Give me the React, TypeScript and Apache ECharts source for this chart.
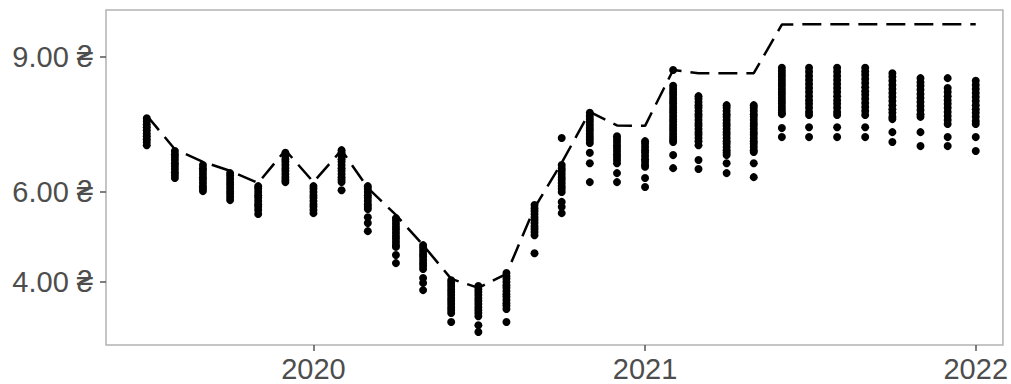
import React, { useEffect, useRef } from "react";
import * as echarts from "echarts";

// Monthly observation dates
const months: string[] = [
  "2019-07-01", "2019-08-01", "2019-09-01", "2019-10-01", "2019-11-01", "2019-12-01",
  "2020-01-01", "2020-02-01", "2020-03-01", "2020-04-01", "2020-05-01", "2020-06-01",
  "2020-07-01", "2020-08-01", "2020-09-01", "2020-10-01", "2020-11-01", "2020-12-01",
  "2021-01-01", "2021-02-01", "2021-03-01", "2021-04-01", "2021-05-01", "2021-06-01",
  "2021-07-01", "2021-08-01", "2021-09-01", "2021-10-01", "2021-11-01", "2021-12-01",
  "2022-01-01",
];

// Dashed line values
const lineValues: number[] = [
  7.70, 6.95, 6.67, 6.47, 6.20, 6.93,
  6.22, 6.93, 6.09, 5.49, 4.82, 4.07, 3.87, 4.18, 5.65, 6.65, 7.78, 7.48,
  7.47, 8.71, 8.64, 8.64, 8.64, 9.72, 9.73, 9.73, 9.73, 9.73, 9.73, 9.73,
  9.73,
];

// Dot values per month
const dotValues: number[][] = [
  [7.64, 7.57, 7.5, 7.44, 7.37, 7.3, 7.24, 7.17, 7.11, 7.04],
  [6.91, 6.84, 6.78, 6.71, 6.64, 6.58, 6.51, 6.44, 6.38, 6.31],
  [6.6, 6.53, 6.47, 6.4, 6.33, 6.27, 6.2, 6.13, 6.07, 6.02],
  [6.42, 6.36, 6.29, 6.22, 6.16, 6.09, 6.02, 5.96, 5.89, 5.82],
  [6.13, 6.07, 6.0, 5.93, 5.87, 5.8, 5.73, 5.67, 5.6, 5.51],
  [6.87, 6.8, 6.73, 6.67, 6.6, 6.53, 6.47, 6.4, 6.33, 6.27, 6.22],
  [6.13, 6.07, 6.0, 5.93, 5.87, 5.8, 5.73, 5.67, 5.6, 5.53],
  [6.93, 6.87, 6.8, 6.73, 6.67, 6.6, 6.53, 6.47, 6.4, 6.33, 6.27, 6.22, 6.04],
  [6.13, 6.07, 6.0, 5.93, 5.87, 5.8, 5.73, 5.67, 5.62, 5.44, 5.31, 5.13],
  [5.42, 5.36, 5.29, 5.22, 5.16, 5.09, 5.02, 4.96, 4.89, 4.82, 4.78, 4.6, 4.42],
  [4.82, 4.76, 4.69, 4.62, 4.56, 4.49, 4.42, 4.36, 4.29, 4.09, 3.98, 3.82],
  [4.04, 3.98, 3.91, 3.84, 3.78, 3.71, 3.64, 3.58, 3.51, 3.44, 3.38, 3.31, 3.11],
  [3.91, 3.84, 3.78, 3.71, 3.64, 3.58, 3.51, 3.44, 3.38, 3.31, 3.24, 3.04, 2.89],
  [4.2, 4.13, 4.07, 4.0, 3.93, 3.87, 3.8, 3.73, 3.67, 3.6, 3.53, 3.47, 3.4, 3.11],
  [5.71, 5.64, 5.58, 5.51, 5.44, 5.38, 5.31, 5.24, 5.18, 5.11, 5.04, 4.64],
  [7.2, 6.6, 6.53, 6.47, 6.4, 6.33, 6.27, 6.2, 6.13, 6.07, 6.0, 5.78, 5.67, 5.53],
  [7.76, 7.69, 7.62, 7.56, 7.49, 7.42, 7.36, 7.29, 7.22, 7.16, 7.09, 6.87, 6.64, 6.22],
  [7.24, 7.18, 7.11, 7.04, 6.98, 6.91, 6.84, 6.78, 6.71, 6.64, 6.42, 6.22],
  [7.13, 7.07, 7.0, 6.93, 6.87, 6.8, 6.73, 6.67, 6.6, 6.56, 6.31, 6.11],
  [8.71, 8.36, 8.29, 8.22, 8.16, 8.09, 8.02, 7.96, 7.89, 7.82, 7.76, 7.69, 7.62, 7.56, 7.49, 7.42, 7.36, 7.29, 7.22, 7.16, 7.11, 6.82, 6.53],
  [8.13, 8.07, 8.0, 7.93, 7.87, 7.8, 7.73, 7.67, 7.6, 7.53, 7.47, 7.4, 7.33, 7.27, 7.2, 7.13, 7.04, 6.71, 6.51],
  [7.93, 7.87, 7.8, 7.73, 7.67, 7.6, 7.53, 7.47, 7.4, 7.33, 7.27, 7.2, 7.13, 7.07, 7.0, 6.93, 6.87, 6.82, 6.64, 6.42],
  [7.93, 7.87, 7.8, 7.73, 7.67, 7.6, 7.53, 7.47, 7.4, 7.33, 7.27, 7.2, 7.13, 7.07, 7.0, 6.93, 6.89, 6.64, 6.33],
  [8.76, 8.69, 8.62, 8.56, 8.49, 8.42, 8.36, 8.29, 8.22, 8.16, 8.09, 8.02, 7.96, 7.89, 7.82, 7.76, 7.73, 7.42, 7.22],
  [8.76, 8.67, 8.58, 8.49, 8.4, 8.31, 8.22, 8.13, 8.04, 7.96, 7.87, 7.78, 7.71, 7.44, 7.22],
  [8.76, 8.67, 8.58, 8.49, 8.4, 8.31, 8.22, 8.13, 8.04, 7.96, 7.87, 7.78, 7.71, 7.44, 7.22],
  [8.76, 8.68, 8.6, 8.51, 8.42, 8.33, 8.24, 8.16, 8.07, 7.98, 7.89, 7.8, 7.71, 7.44, 7.22],
  [8.64, 8.56, 8.47, 8.38, 8.29, 8.2, 8.11, 8.02, 7.93, 7.84, 7.76, 7.67, 7.62, 7.33, 7.11],
  [8.53, 8.44, 8.36, 8.27, 8.18, 8.09, 8.0, 7.91, 7.82, 7.73, 7.67, 7.33, 7.02],
  [8.53, 8.31, 8.22, 8.13, 8.04, 7.96, 7.87, 7.78, 7.69, 7.6, 7.51, 7.22, 7.02],
  [8.47, 8.38, 8.29, 8.2, 8.11, 8.02, 7.93, 7.84, 7.76, 7.67, 7.58, 7.51, 7.22, 6.91],
];

const yTicks: number[] = [4, 6, 9];
const xTickYears: number[] = [2020, 2021, 2022];

const FONT = "'Liberation Sans', Arial, 'DejaVu Sans', sans-serif";

export default function App() {
  const ref = useRef<HTMLDivElement>(null);

  useEffect(() => {
    if (!ref.current) return;
    const chart = echarts.init(ref.current, undefined, { renderer: "svg" });
    const toTs = (s: string) => {
      const [y, m, d] = s.split("-").map(Number);
      return Date.UTC(y, m - 1, d);
    };
    const xTicks = xTickYears.map((y) => Date.UTC(y, 0, 1));
    const lineData = months.map((m, i) => [toTs(m), lineValues[i]]);
    const dotData: number[][] = [];
    months.forEach((m, i) => {
      dotValues[i].forEach((v) => dotData.push([toTs(m), v]));
    });

    chart.setOption({
      animation: false,
      backgroundColor: "#ffffff",
      grid: {
        left: 106,
        right: 6,
        top: 10,
        bottom: 39,
        show: true,
        borderColor: "#b3b3b3",
        borderWidth: 1.5,
        backgroundColor: "transparent",
      },
      xAxis: {
        type: "value",
        min: Date.UTC(2019, 4, 17),
        max: Date.UTC(2022, 0, 31),
        axisLine: { show: false },
        splitLine: { show: false },
        axisTick: {
          show: true,
          length: 6,
          customValues: xTicks,
          lineStyle: { color: "#555555", width: 1.5 },
        },
        axisLabel: {
          customValues: xTicks,
          formatter: (v: number) => String(new Date(v).getUTCFullYear()),
          color: "#4d4d4d",
          fontSize: 29,
          fontFamily: FONT,
          margin: 9,
        },
      },
      yAxis: {
        type: "value",
        min: 2.6,
        max: 10.044,
        axisLine: { show: false },
        splitLine: { show: false },
        axisTick: {
          show: true,
          length: 6,
          customValues: yTicks,
          lineStyle: { color: "#555555", width: 1.5 },
        },
        axisLabel: {
          customValues: yTicks,
          formatter: (v: number) => v.toFixed(2) + " ₴",
          color: "#4d4d4d",
          fontSize: 29,
          fontFamily: FONT,
          margin: 13,
        },
      },
      series: [
        {
          type: "scatter",
          data: dotData,
          symbolSize: 8,
          itemStyle: { color: "#000000", opacity: 1 },
          z: 2,
        },
        {
          type: "line",
          data: lineData,
          symbol: "none",
          lineStyle: { color: "#000000", width: 2.5, type: [19, 9] },
          z: 3,
        },
      ],
    });
    return () => chart.dispose();
  }, []);

  return (
    <div
      ref={ref}
      style={{ position: "fixed", left: 0, top: 0, width: 1011, height: 384 }}
    />
  );
}
